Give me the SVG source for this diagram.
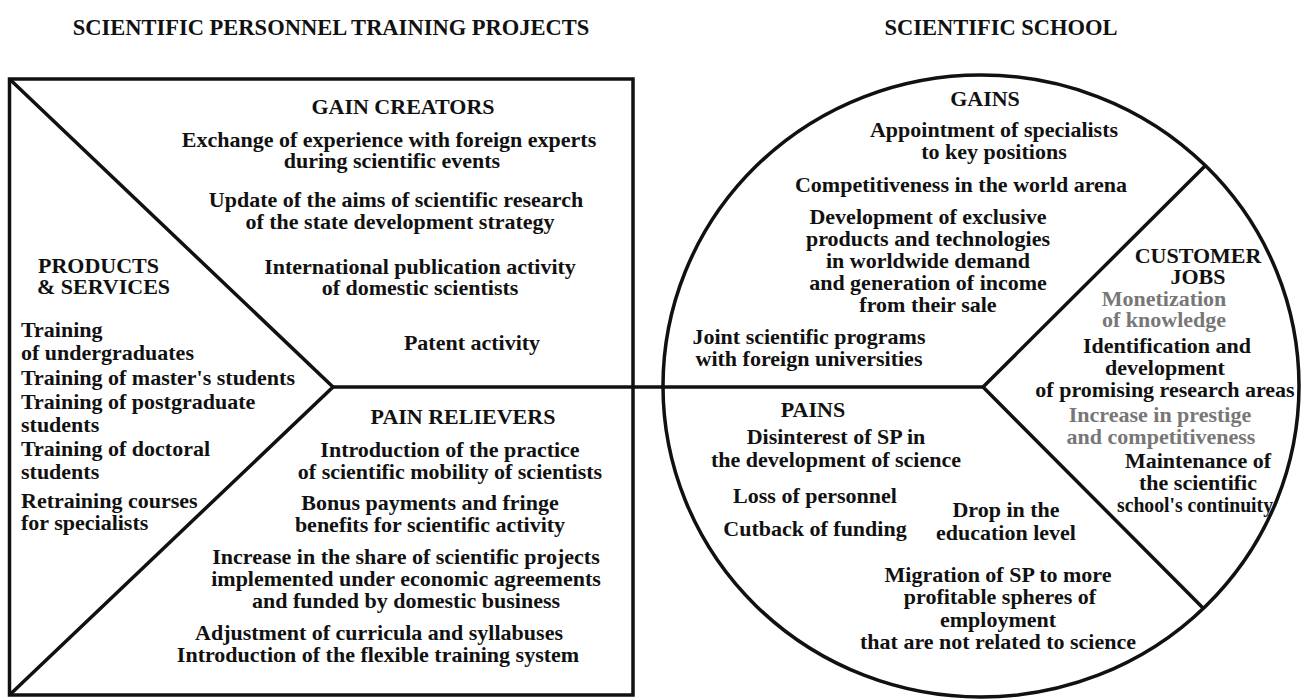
<svg xmlns="http://www.w3.org/2000/svg" width="1305" height="700" viewBox="0 0 1305 700">
  <style>
    text { font-family: "Liberation Serif", "Times New Roman", serif; font-weight: bold; fill: #111; }
    .title { font-size: 22.5px; }
    .head { font-size: 22px; }
    .item { font-size: 22px; }
    .mid { text-anchor: middle; }
    .grey { fill: #777; }
    .frame { fill: none; stroke: #111; stroke-width: 3.5; stroke-linejoin: miter; }
  </style>

  <rect width="1305" height="700" fill="#fff"/>

  <!-- Section titles -->
  <g id="title-projects">
    <text class="title mid" x="331" y="35">SCIENTIFIC PERSONNEL TRAINING PROJECTS</text>
  </g>
  <g id="title-school">
    <text class="title mid" x="1001" y="35">SCIENTIFIC SCHOOL</text>
  </g>

  <!-- Outlines and dividing lines -->
  <g id="connectors">
    <rect class="frame" x="9.5" y="79" width="623.5" height="616"/>
    <ellipse class="frame" cx="981" cy="386" rx="318" ry="311"/>
    <polyline class="frame" points="9.5,79 333,387 9.5,695"/>
    <line class="frame" x1="333" y1="387" x2="983" y2="387"/>
    <polyline class="frame" points="1206,165 983,387 1204,609"/>
  </g>

  <g id="gain-creators">
    <text class="head mid" x="403" y="114">GAIN CREATORS</text>
    <text class="item mid" x="389" y="147">Exchange of experience with foreign experts</text>
    <text class="item mid" x="392" y="168">during scientific events</text>
    <text class="item mid" x="396" y="207">Update of the aims of scientific research</text>
    <text class="item mid" x="400" y="229">of the state development strategy</text>
    <text class="item mid" x="420" y="274">International publication activity</text>
    <text class="item mid" x="420" y="295">of domestic scientists</text>
    <text class="item mid" x="472" y="350">Patent activity</text>
  </g>

  <g id="products-services">
    <text class="head" x="38" y="273">PRODUCTS</text>
    <text class="head" x="37" y="294">&amp; SERVICES</text>
    <text class="item" x="21" y="337">Training</text>
    <text class="item" x="21" y="360">of undergraduates</text>
    <text class="item" x="21" y="385">Training of master's students</text>
    <text class="item" x="21" y="409">Training of postgraduate</text>
    <text class="item" x="21" y="432">students</text>
    <text class="item" x="21" y="456">Training of doctoral</text>
    <text class="item" x="21" y="479">students</text>
    <text class="item" x="21" y="508">Retraining courses</text>
    <text class="item" x="21" y="530">for specialists</text>
  </g>

  <g id="pain-relievers">
    <text class="head mid" x="463" y="424">PAIN RELIEVERS</text>
    <text class="item mid" x="450" y="457">Introduction of the practice</text>
    <text class="item mid" x="450" y="479">of scientific mobility of scientists</text>
    <text class="item mid" x="430" y="510">Bonus payments and fringe</text>
    <text class="item mid" x="430" y="532">benefits for scientific activity</text>
    <text class="item mid" x="406" y="564">Increase in the share of scientific projects</text>
    <text class="item mid" x="406" y="586">implemented under economic agreements</text>
    <text class="item mid" x="406" y="608">and funded by domestic business</text>
    <text class="item mid" x="379" y="640">Adjustment of curricula and syllabuses</text>
    <text class="item mid" x="378" y="662">Introduction of the flexible training system</text>
  </g>

  <g id="gains">
    <text class="head mid" x="985" y="106">GAINS</text>
    <text class="item mid" x="994" y="137">Appointment of specialists</text>
    <text class="item mid" x="994" y="159">to key positions</text>
    <text class="item mid" x="961" y="192">Competitiveness in the world arena</text>
    <text class="item mid" x="928" y="224">Development of exclusive</text>
    <text class="item mid" x="928" y="246">products and technologies</text>
    <text class="item mid" x="928" y="268">in worldwide demand</text>
    <text class="item mid" x="928" y="290">and generation of income</text>
    <text class="item mid" x="928" y="312">from their sale</text>
    <text class="item mid" x="809" y="344">Joint scientific programs</text>
    <text class="item mid" x="809" y="366">with foreign universities</text>
  </g>

  <g id="customer-jobs">
    <text class="head mid" x="1198" y="263">CUSTOMER</text>
    <text class="head mid" x="1198" y="284">JOBS</text>
    <text class="item mid grey" x="1164" y="306">Monetization</text>
    <text class="item mid grey" x="1164" y="327">of knowledge</text>
    <text class="item mid" x="1167" y="353">Identification and</text>
    <text class="item mid" x="1165" y="375">development</text>
    <text class="item mid" x="1165" y="397">of promising research areas</text>
    <text class="item mid grey" x="1160" y="422">Increase in prestige</text>
    <text class="item mid grey" x="1161" y="444">and competitiveness</text>
    <text class="item mid" x="1198" y="468">Maintenance of</text>
    <text class="item mid" x="1198" y="490">the scientific</text>
    <text class="item mid" x="1195" y="512" textLength="156" lengthAdjust="spacingAndGlyphs">school's continuity</text>
  </g>

  <g id="pains">
    <text class="head mid" x="813" y="417">PAINS</text>
    <text class="item mid" x="836" y="444">Disinterest of SP in</text>
    <text class="item mid" x="836" y="467">the development of science</text>
    <text class="item mid" x="815" y="503">Loss of personnel</text>
    <text class="item mid" x="815" y="536">Cutback of funding</text>
    <text class="item mid" x="1006" y="517">Drop in the</text>
    <text class="item mid" x="1006" y="540">education level</text>
    <text class="item mid" x="998" y="582">Migration of SP to more</text>
    <text class="item mid" x="1000" y="604">profitable spheres of</text>
    <text class="item mid" x="998" y="627">employment</text>
    <text class="item mid" x="998" y="649">that are not related to science</text>
  </g>
</svg>
